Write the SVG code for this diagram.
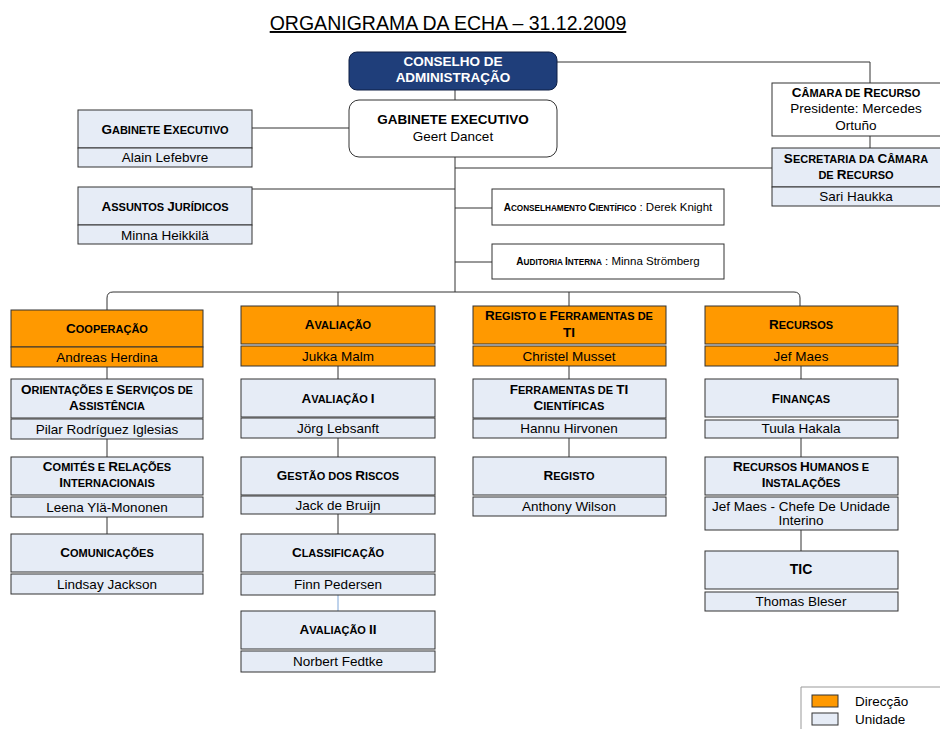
<svg xmlns="http://www.w3.org/2000/svg" width="940" height="729" viewBox="0 0 940 729">
<style>
text{font-family:"Liberation Sans",Arial,sans-serif;text-anchor:middle;fill:#000}
.ttl{font-size:19.5px;text-decoration:underline}
.hd{fill:#FF9900;stroke:#333;stroke-width:1}
.un{fill:#E6ECF6;stroke:#333;stroke-width:1}
.wb{fill:#fff;stroke:#333;stroke-width:1}
.t{font-size:11px;font-weight:bold}
.k{font-size:13.5px}
.ts{font-size:8.2px;font-weight:bold}
.k2{font-size:10px}
.n{font-size:13.5px}
.ns{font-size:11.5px;font-weight:normal}
.b{font-size:13.5px;font-weight:bold}
.c{stroke:#333;stroke-width:1;fill:none}
.cb{stroke:#7EA6D8;stroke-width:1;fill:none}
</style>
<rect width="940" height="729" fill="#fff"/>
<text class="ttl" x="448" y="30">ORGANIGRAMA DA ECHA – 31.12.2009</text>

<g id="connectors">
<path class="c" d="M455,90 V100 M455,157 V292"/>
<path class="c" d="M557,62 H870 V83 M870,136 V148"/>
<path class="c" d="M455,168 H772"/>
<path class="c" d="M252,128 H349"/>
<path class="c" d="M252,189 H455"/>
<path class="c" d="M455,208 H492 M455,262 H492"/>
<path class="c" d="M107,310 V298 Q107,292 113,292 H794 Q800,292 800,298 V306 M338,292 V306 M569,292 V306"/>
<path class="c" d="M107,367 V379 M107,439 V457 M107,517 V534"/>
<path class="c" d="M338,366 V379 M338,438 V457 M338,514 V534"/>
<path class="cb" d="M338,595 V611"/>
<path class="c" d="M569,366 V379 M569,438 V457"/>
<path class="c" d="M801,366 V379 M801,438 V457 M801,530 V551"/>
</g>

<g id="conselho">
<rect x="349" y="52" width="208" height="38" rx="8" fill="#1F3E7A" stroke="#0E1F44"/>
<text class="b" x="453" y="66" style="fill:#fff">CONSELHO DE</text>
<text class="b" x="453" y="82" style="fill:#fff">ADMINISTRAÇÃO</text>
</g>

<g id="gabinete-central">
<rect class="wb" x="349" y="100" width="208" height="57" rx="10"/>
<text class="b" x="453" y="124">GABINETE EXECUTIVO</text>
<text class="n" x="453" y="141">Geert Dancet</text>
</g>

<g id="camara">
<rect class="wb" x="772" y="83" width="172" height="53"/>
<text class="t" x="856" y="97"><tspan class="k">C</tspan>ÂMARA DE <tspan class="k">R</tspan>ECURSO</text>
<text class="n" x="856" y="113">Presidente: Mercedes</text>
<text class="n" x="856" y="130">Ortuño</text>
</g>

<g id="secretaria">
<rect class="un" x="772" y="148" width="172" height="39"/>
<rect class="un" x="772" y="187" width="172" height="19"/>
<text class="t" x="856" y="163"><tspan class="k">S</tspan>ECRETARIA DA <tspan class="k">C</tspan>ÂMARA</text>
<text class="t" x="856" y="179">DE <tspan class="k">R</tspan>ECURSO</text>
<text class="n" x="856" y="201">Sari Haukka</text>
</g>

<g id="gabinete-executivo">
<rect class="un" x="78" y="110" width="174" height="38"/>
<rect class="un" x="78" y="148" width="174" height="19"/>
<text class="t" x="165" y="134"><tspan class="k">G</tspan>ABINETE <tspan class="k">E</tspan>XECUTIVO</text>
<text class="n" x="165" y="162">Alain Lefebvre</text>
</g>

<g id="assuntos-juridicos">
<rect class="un" x="78" y="187" width="174" height="38"/>
<rect class="un" x="78" y="225" width="174" height="19"/>
<text class="t" x="165" y="211"><tspan class="k">A</tspan>SSUNTOS <tspan class="k">J</tspan>URÍDICOS</text>
<text class="n" x="165" y="240">Minna Heikkilä</text>
</g>

<g id="aconselhamento">
<rect class="wb" x="492" y="189" width="232" height="36"/>
<text class="ts" x="608" y="211"><tspan class="k2">A</tspan>CONSELHAMENTO <tspan class="k2">C</tspan>IENTÍFICO<tspan class="ns"> : Derek Knight</tspan></text>
</g>

<g id="auditoria">
<rect class="wb" x="492" y="244" width="232" height="35"/>
<text class="ts" x="608" y="265"><tspan class="k2">A</tspan>UDITORIA <tspan class="k2">I</tspan>NTERNA<tspan class="ns"> : Minna Strömberg</tspan></text>
</g>

<g id="cooperacao">
<rect class="hd" x="11" y="310" width="192" height="37"/>
<rect class="hd" x="11" y="347" width="192" height="20"/>
<text class="t" x="107" y="333"><tspan class="k">C</tspan>OOPERAÇÃO</text>
<text class="n" x="107" y="362">Andreas Herdina</text>
</g>
<g id="orientacoes">
<rect class="un" x="11" y="379" width="192" height="39"/>
<rect class="un" x="11" y="419" width="192" height="20"/>
<text class="t" x="107" y="394"><tspan class="k">O</tspan>RIENTAÇÕES E <tspan class="k">S</tspan>ERVIÇOS DE</text>
<text class="t" x="107" y="410"><tspan class="k">A</tspan>SSISTÊNCIA</text>
<text class="n" x="107" y="434">Pilar Rodríguez Iglesias</text>
</g>
<g id="comites">
<rect class="un" x="11" y="457" width="192" height="38"/>
<rect class="un" x="11" y="497" width="192" height="20"/>
<text class="t" x="107" y="471"><tspan class="k">C</tspan>OMITÉS E <tspan class="k">R</tspan>ELAÇÕES</text>
<text class="t" x="107" y="487"><tspan class="k">I</tspan>NTERNACIONAIS</text>
<text class="n" x="107" y="512">Leena Ylä-Mononen</text>
</g>
<g id="comunicacoes">
<rect class="un" x="11" y="534" width="192" height="38"/>
<rect class="un" x="11" y="574" width="192" height="20"/>
<text class="t" x="107" y="557"><tspan class="k">C</tspan>OMUNICAÇÕES</text>
<text class="n" x="107" y="589">Lindsay Jackson</text>
</g>

<g id="avaliacao">
<rect class="hd" x="241" y="306" width="194" height="38"/>
<rect class="hd" x="241" y="346" width="194" height="20"/>
<text class="t" x="338" y="329"><tspan class="k">A</tspan>VALIAÇÃO</text>
<text class="n" x="338" y="361">Jukka Malm</text>
</g>
<g id="avaliacao-i">
<rect class="un" x="241" y="379" width="194" height="38"/>
<rect class="un" x="241" y="418" width="194" height="20"/>
<text class="t" x="338" y="403"><tspan class="k">A</tspan>VALIAÇÃO <tspan class="k">I</tspan></text>
<text class="n" x="338" y="433">Jörg Lebsanft</text>
</g>
<g id="gestao-riscos">
<rect class="un" x="241" y="457" width="194" height="38"/>
<rect class="un" x="241" y="496" width="194" height="18"/>
<text class="t" x="338" y="480"><tspan class="k">G</tspan>ESTÃO DOS <tspan class="k">R</tspan>ISCOS</text>
<text class="n" x="338" y="510">Jack de Bruijn</text>
</g>
<g id="classificacao">
<rect class="un" x="241" y="534" width="194" height="38"/>
<rect class="un" x="241" y="574" width="194" height="21"/>
<text class="t" x="338" y="557"><tspan class="k">C</tspan>LASSIFICAÇÃO</text>
<text class="n" x="338" y="589">Finn Pedersen</text>
</g>
<g id="avaliacao-ii">
<rect class="un" x="241" y="611" width="194" height="38"/>
<rect class="un" x="241" y="651" width="194" height="21"/>
<text class="t" x="338" y="634"><tspan class="k">A</tspan>VALIAÇÃO <tspan class="k">II</tspan></text>
<text class="n" x="338" y="666">Norbert Fedtke</text>
</g>

<g id="registo-ferramentas">
<rect class="hd" x="473" y="306" width="193" height="38"/>
<rect class="hd" x="473" y="346" width="193" height="20"/>
<text class="t" x="569" y="320"><tspan class="k">R</tspan>EGISTO E <tspan class="k">F</tspan>ERRAMENTAS DE</text>
<text class="t" x="569" y="337"><tspan class="k">TI</tspan></text>
<text class="n" x="569" y="361">Christel Musset</text>
</g>
<g id="ferramentas-ti">
<rect class="un" x="473" y="379" width="193" height="39"/>
<rect class="un" x="473" y="419" width="193" height="19"/>
<text class="t" x="569" y="394"><tspan class="k">F</tspan>ERRAMENTAS DE <tspan class="k">TI</tspan></text>
<text class="t" x="569" y="410"><tspan class="k">C</tspan>IENTÍFICAS</text>
<text class="n" x="569" y="433">Hannu Hirvonen</text>
</g>
<g id="registo">
<rect class="un" x="473" y="457" width="193" height="38"/>
<rect class="un" x="473" y="497" width="193" height="19"/>
<text class="t" x="569" y="480"><tspan class="k">R</tspan>EGISTO</text>
<text class="n" x="569" y="511">Anthony Wilson</text>
</g>

<g id="recursos">
<rect class="hd" x="705" y="306" width="193" height="38"/>
<rect class="hd" x="705" y="346" width="193" height="20"/>
<text class="t" x="801" y="329"><tspan class="k">R</tspan>ECURSOS</text>
<text class="n" x="801" y="361">Jef Maes</text>
</g>
<g id="financas">
<rect class="un" x="705" y="379" width="193" height="38"/>
<rect class="un" x="705" y="420" width="193" height="18"/>
<text class="t" x="801" y="403"><tspan class="k">F</tspan>INANÇAS</text>
<text class="n" x="801" y="433">Tuula Hakala</text>
</g>
<g id="recursos-humanos">
<rect class="un" x="705" y="457" width="193" height="38"/>
<rect class="un" x="705" y="497" width="193" height="33"/>
<text class="t" x="801" y="471"><tspan class="k">R</tspan>ECURSOS <tspan class="k">H</tspan>UMANOS E</text>
<text class="t" x="801" y="487"><tspan class="k">I</tspan>NSTALAÇÕES</text>
<text class="n" x="801" y="511">Jef Maes - Chefe De Unidade</text>
<text class="n" x="801" y="525">Interino</text>
</g>
<g id="tic">
<rect class="un" x="705" y="551" width="193" height="38"/>
<rect class="un" x="705" y="592" width="193" height="19"/>
<text class="b" x="801" y="574" style="font-size:14px">TIC</text>
<text class="n" x="801" y="606">Thomas Bleser</text>
</g>

<g id="legend">
<path d="M801,729 V687 H940" fill="none" stroke="#999"/>
<rect class="hd" x="812" y="695" width="26" height="12"/>
<rect class="un" x="812" y="713" width="26" height="12"/>
<text class="n" x="855" y="706" style="text-anchor:start">Direcção</text>
<text class="n" x="855" y="724" style="text-anchor:start">Unidade</text>
</g>
</svg>
